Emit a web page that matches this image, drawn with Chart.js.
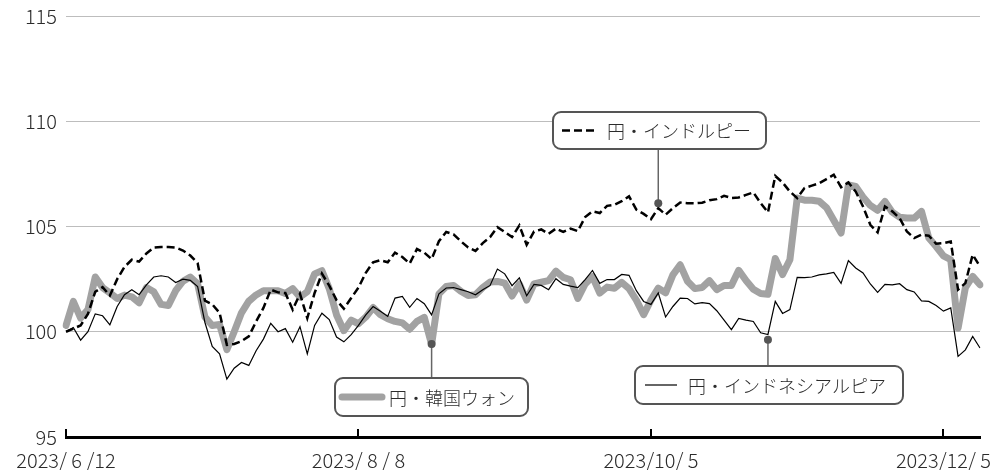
<!DOCTYPE html>
<html>
<head>
<meta charset="utf-8">
<script src="https://cdn.jsdelivr.net/npm/chart.js@4/dist/chart.umd.min.js"></script>
<style>
  html, body { margin: 0; padding: 0; background: #fff; }
  #wrap { width: 999px; height: 470px; }
</style>
</head>
<body>
<div id="wrap"><canvas id="myChart" width="999" height="470"></canvas></div>
<script>
// trading days (Tokyo), 2023/6/12 - 2023/12/12
const dates = [
  '2023/6/12','2023/6/13','2023/6/14','2023/6/15','2023/6/16','2023/6/19','2023/6/20','2023/6/21','2023/6/22','2023/6/23',
  '2023/6/26','2023/6/27','2023/6/28','2023/6/29','2023/6/30',
  '2023/7/3','2023/7/4','2023/7/5','2023/7/6','2023/7/7','2023/7/10','2023/7/11','2023/7/12','2023/7/13','2023/7/14',
  '2023/7/18','2023/7/19','2023/7/20','2023/7/21','2023/7/24','2023/7/25','2023/7/26','2023/7/27','2023/7/28','2023/7/31',
  '2023/8/1','2023/8/2','2023/8/3','2023/8/4','2023/8/7','2023/8/8','2023/8/9','2023/8/10','2023/8/14','2023/8/15',
  '2023/8/16','2023/8/17','2023/8/18','2023/8/21','2023/8/22','2023/8/23','2023/8/24','2023/8/25','2023/8/28','2023/8/29',
  '2023/8/30','2023/8/31',
  '2023/9/1','2023/9/4','2023/9/5','2023/9/6','2023/9/7','2023/9/8','2023/9/11','2023/9/12','2023/9/13','2023/9/14',
  '2023/9/15','2023/9/19','2023/9/20','2023/9/21','2023/9/22','2023/9/25','2023/9/26','2023/9/27','2023/9/28','2023/9/29',
  '2023/10/2','2023/10/3','2023/10/4','2023/10/5','2023/10/6','2023/10/10','2023/10/11','2023/10/12','2023/10/13','2023/10/16',
  '2023/10/17','2023/10/18','2023/10/19','2023/10/20','2023/10/23','2023/10/24','2023/10/25','2023/10/26','2023/10/27','2023/10/30',
  '2023/10/31',
  '2023/11/1','2023/11/2','2023/11/6','2023/11/7','2023/11/8','2023/11/9','2023/11/10','2023/11/13','2023/11/14','2023/11/15',
  '2023/11/16','2023/11/17','2023/11/20','2023/11/21','2023/11/22','2023/11/24','2023/11/27','2023/11/28','2023/11/29','2023/11/30',
  '2023/12/1','2023/12/4','2023/12/5','2023/12/6','2023/12/7','2023/12/8','2023/12/11','2023/12/12'
];

const tickDates = ['2023/6/12', '2023/8/8', '2023/10/5', '2023/12/5'];
const tickLabels = ['2023/ 6 /12', '2023/ 8 / 8', '2023/10/ 5', '2023/12/ 5'];
const yTicks = [95, 100, 105, 110, 115];

// 円・インドルピー
const inrYen = [
  100.0,100.15,100.3,100.85,101.9,102.12,101.72,102.5,103.08,103.42,
  103.33,103.72,104.0,104.03,104.03,104.0,103.86,103.62,103.26,101.48,
  101.3,100.9,99.38,99.42,99.55,99.78,100.49,101.13,102.0,101.87,
  101.84,101.05,101.8,100.65,101.84,102.76,102.19,101.5,101.1,101.6,
  102.1,102.8,103.3,103.4,103.3,103.76,103.55,103.24,103.93,103.76,
  103.45,104.3,104.74,104.63,104.3,104.0,103.84,104.21,104.5,104.97,
  104.74,104.5,105.05,104.13,104.76,104.86,104.65,104.9,104.74,104.9,
  104.78,105.45,105.72,105.64,105.98,106.03,106.2,106.43,105.8,105.6,
  105.35,105.87,105.56,105.87,106.14,106.11,106.1,106.13,106.25,106.3,
  106.46,106.35,106.38,106.5,106.62,106.11,105.67,107.4,107.09,106.66,
  106.35,106.83,106.94,107.05,107.25,107.46,106.87,107.09,106.66,105.95,
  105.08,104.72,105.95,105.72,105.4,104.76,104.45,104.61,104.56,104.18,
  104.21,104.29,102.0,102.31,103.66,103.1
];

// 円・韓国ウォン
const krwYen = [
  100.3,101.44,100.65,101.05,102.6,102.1,101.85,101.58,101.74,101.66,
  101.38,102.1,101.9,101.3,101.25,101.95,102.4,102.6,102.28,100.7,
  100.3,100.35,99.15,100.0,100.9,101.45,101.75,101.95,101.95,101.95,
  101.82,102.05,101.65,101.9,102.75,102.9,102.05,100.8,100.05,100.55,
  100.38,100.7,101.15,100.81,100.62,100.49,100.42,100.12,100.49,100.68,
  99.4,101.8,102.15,102.2,101.92,101.72,101.76,102.1,102.36,102.39,
  102.31,101.7,102.27,101.5,102.27,102.35,102.43,102.88,102.58,102.47,
  101.58,102.27,102.62,101.84,102.12,102.07,102.35,102.05,101.5,100.81,
  101.5,102.07,101.85,102.7,103.18,102.4,102.05,102.1,102.43,102.0,
  102.2,102.2,102.92,102.43,102.02,101.82,101.78,103.48,102.72,103.42,
  106.35,106.25,106.25,106.2,105.9,105.3,104.69,106.98,106.9,106.4,
  106.0,105.77,106.19,105.68,105.44,105.4,105.4,105.72,104.45,104.05,
  103.6,103.42,100.17,102.1,102.63,102.23
];

// 円・インドネシアルピア
const idrYen = [
  100.0,100.2,99.6,100.0,100.85,100.76,100.33,101.2,101.76,102.0,
  101.76,102.23,102.6,102.66,102.6,102.34,102.5,102.44,102.15,100.44,
  99.3,98.95,97.75,98.27,98.54,98.4,99.1,99.65,100.4,100.0,
  100.15,99.5,100.24,98.95,100.3,100.88,100.58,99.75,99.52,99.86,
  100.3,100.8,101.2,100.97,100.73,101.6,101.68,101.16,101.58,101.33,
  100.8,101.8,102.08,102.1,102.0,101.9,101.76,102.0,102.2,102.98,
  102.75,102.19,102.56,101.71,102.25,102.2,102.0,102.52,102.25,102.17,
  102.1,102.48,102.91,102.3,102.48,102.48,102.72,102.68,101.95,101.44,
  101.3,101.84,100.7,101.2,101.6,101.58,101.32,101.38,101.34,101.0,
  100.55,100.1,100.63,100.55,100.49,99.95,99.87,101.44,100.87,101.05,
  102.58,102.57,102.6,102.7,102.75,102.82,102.3,103.38,103.03,102.79,
  102.27,101.87,102.25,102.23,102.28,102.0,101.89,101.47,101.44,101.25,
  100.98,101.13,98.83,99.14,99.78,99.23
];

const FONT = "'Noto Sans CJK JP', 'Noto Sans', sans-serif";
const TEXT = '#2b2b2b';

// callout boxes: anchor on the line (index, value), box in pixels
const callouts = [
  { ds: 1, index: 81, value: 106.1, box: [553, 112, 213, 37], sample: [562, 597], textX: 607, text: '円・インドルピー' },
  { ds: 0, index: 50, value: 99.42, box: [335, 378, 193, 38], sample: [342, 382], textX: 389, text: '円・韓国ウォン' },
  { ds: 2, index: 96, value: 99.62, box: [635, 366, 268, 38], sample: [645, 677], textX: 688, text: '円・インドネシアルピア' }
];

function roundRect(ctx, x, y, w, h, r) {
  ctx.beginPath();
  ctx.moveTo(x + r, y);
  ctx.arcTo(x + w, y, x + w, y + h, r);
  ctx.arcTo(x + w, y + h, x, y + h, r);
  ctx.arcTo(x, y + h, x, y, r);
  ctx.arcTo(x, y, x + w, y, r);
  ctx.closePath();
}

const calloutPlugin = {
  id: 'callouts',
  afterDraw(chart) {
    const ctx = chart.ctx;
    const xs = chart.scales.x, ys = chart.scales.y;

    // upward tick marks on the x axis
    ctx.save();
    ctx.strokeStyle = '#000';
    ctx.lineWidth = 2;
    tickDates.forEach(d => {
      const px = Math.round(xs.getPixelForValue(dates.indexOf(d)));
      ctx.beginPath();
      ctx.moveTo(px, chart.chartArea.bottom);
      ctx.lineTo(px, chart.chartArea.bottom - 8);
      ctx.stroke();
    });
    ctx.restore();

    callouts.forEach(c => {
      const ds = chart.data.datasets[c.ds];
      const px = xs.getPixelForValue(c.index);
      const py = ys.getPixelForValue(c.value);
      const [bx, by, bw, bh] = c.box;
      const edge = py < by ? by : by + bh;
      ctx.save();
      ctx.strokeStyle = '#666';
      ctx.lineWidth = 1.5;
      ctx.beginPath();
      ctx.moveTo(px, py);
      ctx.lineTo(px, edge);
      ctx.stroke();
      ctx.fillStyle = '#555';
      ctx.beginPath();
      ctx.arc(px, py, 4, 0, Math.PI * 2);
      ctx.fill();

      roundRect(ctx, bx, by, bw, bh, 8);
      ctx.fillStyle = '#fff';
      ctx.fill();
      ctx.strokeStyle = '#555';
      ctx.lineWidth = 2;
      ctx.stroke();

      const cy = by + bh / 2;
      ctx.strokeStyle = ds.borderColor;
      ctx.lineWidth = ds.borderWidth;
      ctx.lineCap = ds.borderCapStyle || 'butt';
      ctx.setLineDash(ds.borderDash || []);
      ctx.beginPath();
      ctx.moveTo(c.sample[0], cy);
      ctx.lineTo(c.sample[1], cy);
      ctx.stroke();
      ctx.setLineDash([]);

      ctx.fillStyle = TEXT;
      ctx.font = '300 18px ' + FONT;
      ctx.textBaseline = 'middle';
      ctx.textAlign = 'left';
      ctx.fillText(c.text, c.textX, cy + 1);
      ctx.restore();
    });
  }
};

const ctx = document.getElementById('myChart');

new Chart(ctx, {
  type: 'line',
  data: {
    labels: dates,
    datasets: [
      {
        label: '円・韓国ウォン',
        data: krwYen,
        borderColor: '#a2a2a2',
        borderWidth: 7,
        borderCapStyle: 'round',
        borderJoinStyle: 'round',
        order: 3
      },
      {
        label: '円・インドルピー',
        data: inrYen,
        borderColor: '#000',
        borderWidth: 2.5,
        borderDash: [8, 4],
        order: 2
      },
      {
        label: '円・インドネシアルピア',
        data: idrYen,
        borderColor: '#000',
        borderWidth: 1.2,
        order: 1
      }
    ]
  },
  options: {
    responsive: false,
    animation: false,
    layout: { padding: { top: 16, right: 19, left: 0, bottom: 0 } },
    elements: { point: { radius: 0 }, line: { tension: 0 } },
    plugins: { legend: false, tooltip: { enabled: false } },
    scales: {
      x: {
        afterFit: s => { s.height = 33; s.paddingLeft = 0; s.paddingRight = 0; },
        grid: { display: false },
        border: { display: true, color: '#000', width: 3 },
        ticks: {
          autoSkip: false,
          maxRotation: 0,
          minRotation: 0,
          padding: 3,
          color: TEXT,
          font: { family: FONT, size: 20, weight: 300 },
          callback: (v, i) => {
            const k = tickDates.indexOf(dates[i]);
            return k < 0 ? null : tickLabels[k];
          }
        }
      },
      y: {
        min: 95,
        max: 115,
        afterFit: s => { s.width = 66; s.paddingTop = 0; s.paddingBottom = 0; },
        afterBuildTicks: s => { s.ticks = yTicks.map(v => ({ value: v })); },
        grid: { color: '#bdbdbd', lineWidth: 1, drawTicks: false },
        border: { display: false },
        ticks: {
          padding: 9,
          color: TEXT,
          font: { family: FONT, size: 20, weight: 300 }
        }
      }
    }
  },
  plugins: [calloutPlugin]
});
</script>
</body>
</html>
